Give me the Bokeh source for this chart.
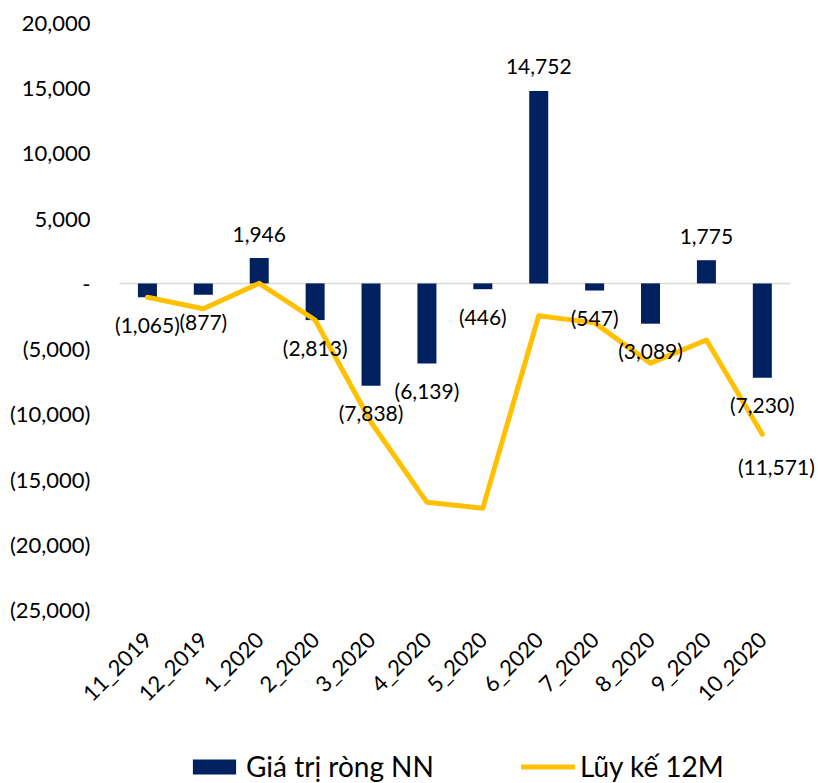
from bokeh.plotting import figure
from bokeh.models import (ColumnDataSource, Range1d, FixedTicker, LabelSet,
                          Legend, LegendItem)
from bokeh.layouts import column
from bokeh.core.properties import value
from bokeh.embed import file_html
from bokeh.resources import INLINE
import math

months = ["11_2019", "12_2019", "1_2020", "2_2020", "3_2020", "4_2020",
          "5_2020", "6_2020", "7_2020", "8_2020", "9_2020", "10_2020"]
net_values = [-1065, -877, 1946, -2813, -7838, -6139, -446, 14752, -547, -3089, 1775, -7230]
cum_12m = [-1065, -1942, 4, -2809, -10647, -16786, -17232, -2480, -3027, -6116, -4341, -11571]
y_ticks = [-25000, -20000, -15000, -10000, -5000, 0, 5000, 10000, 15000, 20000]
y_tick_labels = ["(25,000)", "(20,000)", "(15,000)", "(10,000)", "(5,000)", "-",
                 "5,000", "10,000", "15,000", "20,000"]

NAVY = "#002060"
GOLD = "#FFC000"
FONT = "Lato"


def fmt(v):
    s = f"{abs(v):,}"
    return f"({s})" if v < 0 else s


idx = list(range(len(months)))
n = len(months)

p = figure(width=818, height=718, x_range=Range1d(-0.625, n + 0.005),
           y_range=Range1d(-25000, 20000), output_backend="svg", toolbar_location=None,
           min_border_left=112, min_border_right=0, min_border_top=22,
           min_border_bottom=100)
p.outline_line_color = None
p.xgrid.grid_line_color = None
p.ygrid.grid_line_color = None

p.segment(x0=[-0.5], x1=[n - 0.5], y0=[0], y1=[0], line_color="#D9D9D9", line_width=1.5)

src = ColumnDataSource(dict(x=idx, v=net_values, c=cum_12m))
bars = p.vbar(x="x", top="v", bottom=0, width=0.34, source=src,
              fill_color=NAVY, line_color=None)
line = p.line(x="x", y="c", source=src, line_color=GOLD, line_width=5,
              line_join="round", line_cap="round")

pos = [(i, v) for i, v in zip(idx, net_values) if v >= 0]
neg = [(i, v) for i, v in zip(idx, net_values) if v < 0]
pos_src = ColumnDataSource(dict(x=[a for a, _ in pos], y=[b for _, b in pos],
                                t=[fmt(b) for _, b in pos]))
neg_src = ColumnDataSource(dict(x=[a for a, _ in neg], y=[b for _, b in neg],
                                t=[fmt(b) for _, b in neg]))
for s, off in ((pos_src, 24), (neg_src, -27)):
    p.add_layout(LabelSet(x="x", y="y", text="t", source=s, y_offset=off,
                          text_align="center", text_baseline="middle",
                          text_font=value(FONT), text_font_size=value("21px"),
                          text_color="#000000"))

last_src = ColumnDataSource(dict(x=[idx[-1]], y=[cum_12m[-1]], t=[fmt(cum_12m[-1])]))
p.add_layout(LabelSet(x="x", y="y", text="t", source=last_src, x_offset=14, y_offset=-32,
                      text_align="center", text_baseline="middle",
                      text_font=value(FONT), text_font_size=value("21px"),
                      text_color="#000000"))

p.yaxis.ticker = FixedTicker(ticks=y_ticks)
p.yaxis.major_label_overrides = {t: l for t, l in zip(y_ticks, y_tick_labels)}
p.xaxis.ticker = FixedTicker(ticks=idx)
p.xaxis.major_label_overrides = {i: m for i, m in zip(idx, months)}
for ax in (p.xaxis, p.yaxis):
    ax.axis_line_color = None
    ax.major_tick_line_color = None
    ax.minor_tick_line_color = None
    ax.major_tick_out = 0
    ax.major_tick_in = 0
    ax.major_label_text_font = FONT
    ax.major_label_text_color = "#000000"
p.yaxis.major_label_text_font_size = "22px"
p.yaxis.major_label_standoff = 22
p.xaxis.major_label_text_font_size = "22px"
p.xaxis.major_label_orientation = math.pi / 4
p.xaxis.major_label_standoff = 26

# legend strip (its renderers draw the same data, kept out of view)
lg = figure(width=818, height=65, x_range=Range1d(1000, 1001), y_range=Range1d(1e6, 1e6 + 1),
            output_backend="svg", toolbar_location=None, min_border=0)
lg.axis.visible = False
lg.xgrid.grid_line_color = None
lg.ygrid.grid_line_color = None
lg.outline_line_color = None
r1 = lg.vbar(x="x", top="v", bottom=0, width=0.34, source=src, fill_color=NAVY, line_color=None)
r2 = lg.line(x="x", y="c", source=src, line_color=GOLD, line_width=5, line_cap="round")
legend = Legend(items=[LegendItem(label="Giá trị ròng NN", renderers=[r1]),
                       LegendItem(label="Lũy kế 12M", renderers=[r2])],
                orientation="horizontal", location=(75, 0),
                glyph_width=54, glyph_height=19, label_standoff=5, spacing=87,
                padding=0, margin=0, border_line_alpha=0, background_fill_alpha=0,
                label_text_font=FONT, label_text_font_size="28px",
                label_text_color="#000000")
lg.add_layout(legend, "center")

open("out.html", "w").write(file_html(column(p, lg, spacing=0), INLINE))
